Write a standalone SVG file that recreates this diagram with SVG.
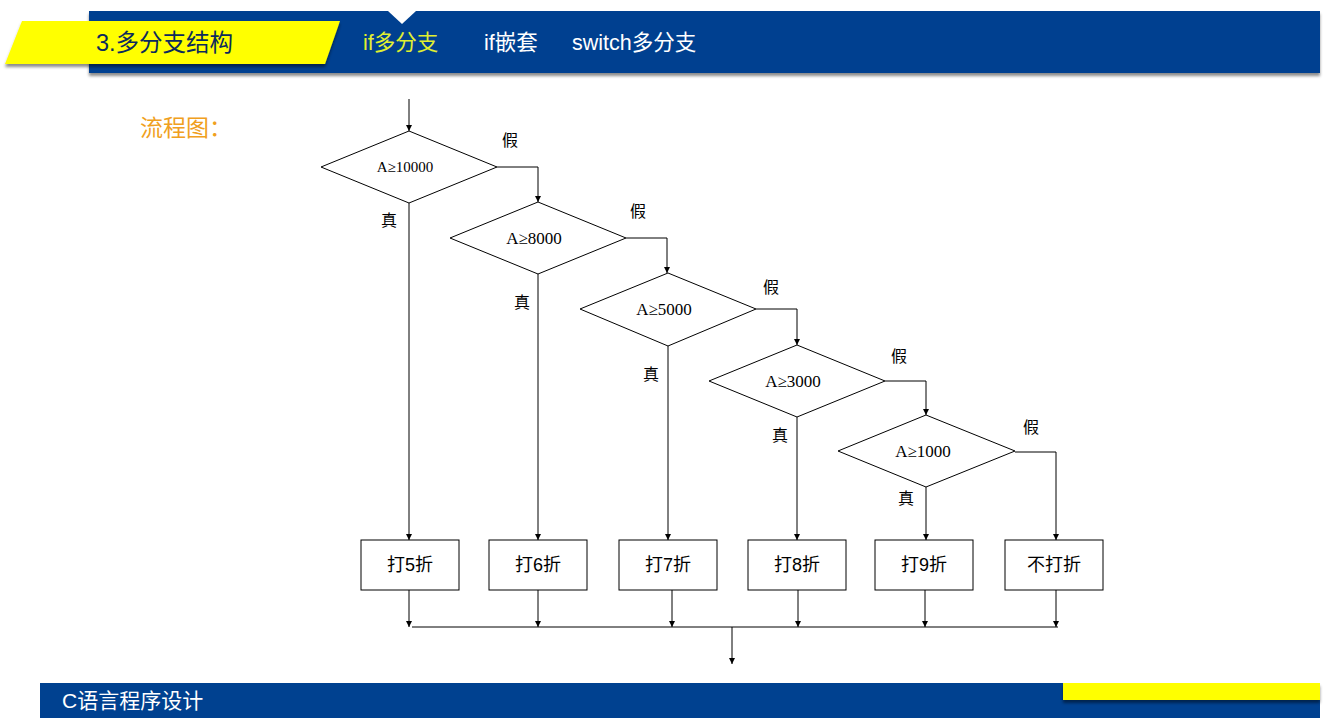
<svg xmlns="http://www.w3.org/2000/svg" width="1328" height="718" viewBox="0 0 1328 718">
<defs>
<marker id="arr" viewBox="0 0 10 10" refX="10" refY="5" markerWidth="6" markerHeight="6" markerUnits="userSpaceOnUse" orient="auto">
<path d="M0,0 L10,5 L0,10 z" fill="#000"/>
</marker>
<filter id="sh" x="-5%" y="-20%" width="110%" height="160%">
<feDropShadow dx="0" dy="3" stdDeviation="1.5" flood-color="#000" flood-opacity="0.45"/>
</filter>
<style>
.dia{fill:#fff;stroke:#000;stroke-width:1}
.box{fill:#fff;stroke:#000;stroke-width:1}
.ln{fill:none;stroke:#000;stroke-width:1}
.dt{font-family:"Liberation Serif",serif;font-size:17px;text-anchor:middle;dominant-baseline:central;fill:#000}
.bt{font-family:"Liberation Sans","Noto Sans CJK SC",sans-serif;font-size:18px;text-anchor:middle;dominant-baseline:central;fill:#000}
.lb{font-family:"Noto Sans CJK SC",sans-serif;font-size:16px;text-anchor:middle;dominant-baseline:central;fill:#000}
.nav{font-family:"Liberation Sans","Noto Sans CJK SC",sans-serif;font-size:21.5px;dominant-baseline:central}
</style>
</defs>
<rect width="1328" height="718" fill="#fff"/>
<g id="header">
<rect x="89" y="11" width="1231" height="62" fill="#004190" filter="url(#sh)"/>
<polygon points="388,11 416,11 402,24" fill="#fff"/>
<polygon points="22,21 340,21 325,64 5,64" fill="#ffff00" filter="url(#sh)"/>
<text x="96" y="43" class="nav" style="font-size:23.5px" fill="#0b2a5e">3.多分支结构</text>
<text x="363" y="43" class="nav" fill="#e0f030">if多分支</text>
<text x="484" y="43" class="nav" fill="#ffffff">if嵌套</text>
<text x="572" y="43" class="nav" fill="#ffffff">switch多分支</text>
</g>
<g id="footer">
<rect x="40" y="683" width="1280" height="35" fill="#004190"/>
<rect x="1063" y="683" width="257" height="17" fill="#ffff00" filter="url(#sh)"/>
<text x="62" y="700" class="nav" style="font-size:21px" fill="#ffffff">C语言程序设计</text>
</g>
<text x="140" y="126" font-family="Noto Sans CJK SC,sans-serif" font-size="23" fill="#f0a020" dominant-baseline="central">流程图：</text>
<g id="connectors">
<line class="ln" x1="409" y1="99" x2="409" y2="131" marker-end="url(#arr)"/>
<polyline class="ln" points="497,167 538,167 538,202" marker-end="url(#arr)"/>
<polyline class="ln" points="626,238 667,238 667,273" marker-end="url(#arr)"/>
<polyline class="ln" points="756,309 797,309 797,345" marker-end="url(#arr)"/>
<polyline class="ln" points="885,381 926,381 926,415" marker-end="url(#arr)"/>
<polyline class="ln" points="1015,452 1056,452 1056,540" marker-end="url(#arr)"/>
<line class="ln" x1="409" y1="203" x2="409" y2="540" marker-end="url(#arr)"/>
<line class="ln" x1="538" y1="274" x2="538" y2="540" marker-end="url(#arr)"/>
<line class="ln" x1="668" y1="346" x2="668" y2="540" marker-end="url(#arr)"/>
<line class="ln" x1="797" y1="417" x2="797" y2="540" marker-end="url(#arr)"/>
<line class="ln" x1="926" y1="487" x2="926" y2="540" marker-end="url(#arr)"/>
<line class="ln" x1="409" y1="590" x2="409" y2="627" marker-end="url(#arr)"/>
<line class="ln" x1="538" y1="590" x2="538" y2="627" marker-end="url(#arr)"/>
<line class="ln" x1="672" y1="590" x2="672" y2="627" marker-end="url(#arr)"/>
<line class="ln" x1="798" y1="590" x2="798" y2="627" marker-end="url(#arr)"/>
<line class="ln" x1="925" y1="590" x2="925" y2="627" marker-end="url(#arr)"/>
<line class="ln" x1="1056" y1="590" x2="1056" y2="627" marker-end="url(#arr)"/>
<line class="ln" x1="412" y1="627" x2="1058" y2="627"/>
<line class="ln" x1="732" y1="627" x2="732" y2="664" marker-end="url(#arr)"/>
<text class="lb" x="510" y="139">假</text>
<text class="lb" x="638" y="210">假</text>
<text class="lb" x="771" y="286">假</text>
<text class="lb" x="899" y="355">假</text>
<text class="lb" x="1031" y="426">假</text>
<text class="lb" x="389" y="219">真</text>
<text class="lb" x="522" y="301">真</text>
<text class="lb" x="651" y="373">真</text>
<text class="lb" x="780" y="434">真</text>
<text class="lb" x="906" y="497">真</text>
</g>
<g id="d1"><polygon class="dia" points="409,131 497,167 409,203 321,167"/><text class="dt" x="405" y="167" style="font-size:15px">A≥10000</text></g>
<g id="d2"><polygon class="dia" points="538,202 626,238 538,274 450,238"/><text class="dt" x="534" y="238">A≥8000</text></g>
<g id="d3"><polygon class="dia" points="668,273 756,309 668,346 580,309"/><text class="dt" x="664" y="309">A≥5000</text></g>
<g id="d4"><polygon class="dia" points="797,345 885,381 797,417 709,381"/><text class="dt" x="793" y="381">A≥3000</text></g>
<g id="d5"><polygon class="dia" points="926,415 1015,451 926,487 838,451"/><text class="dt" x="923" y="451">A≥1000</text></g>
<g id="b1"><rect class="box" x="361" y="540" width="98" height="50"/><text class="bt" x="410" y="565">打5折</text></g>
<g id="b2"><rect class="box" x="489" y="540" width="98" height="50"/><text class="bt" x="538" y="565">打6折</text></g>
<g id="b3"><rect class="box" x="619" y="540" width="98" height="50"/><text class="bt" x="668" y="565">打7折</text></g>
<g id="b4"><rect class="box" x="748" y="540" width="98" height="50"/><text class="bt" x="797" y="565">打8折</text></g>
<g id="b5"><rect class="box" x="875" y="540" width="98" height="50"/><text class="bt" x="924" y="565">打9折</text></g>
<g id="b6"><rect class="box" x="1005" y="540" width="98" height="50"/><text class="bt" x="1054" y="565">不打折</text></g>
</svg>
